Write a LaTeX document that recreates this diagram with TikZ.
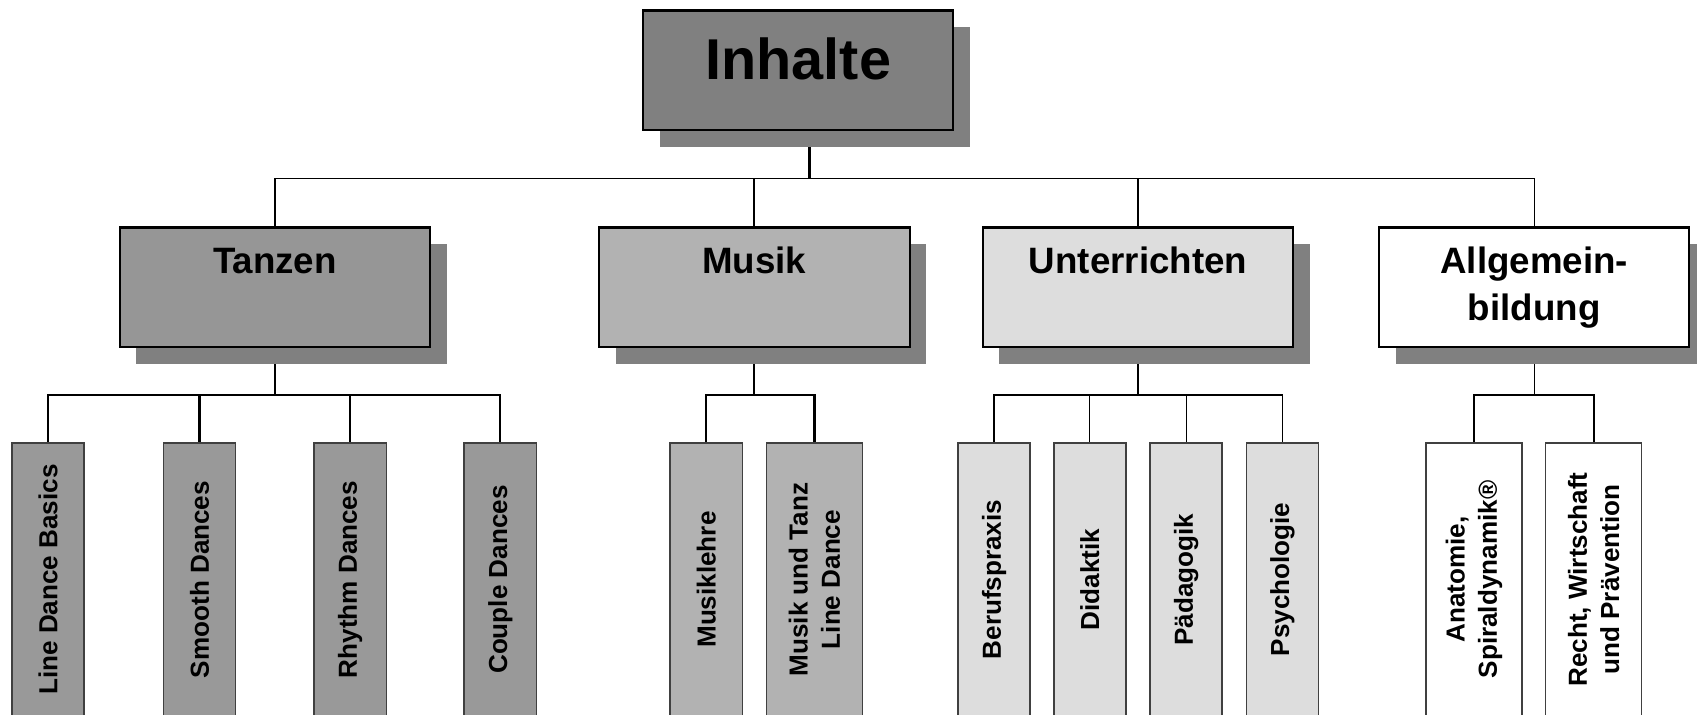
\documentclass[tikz,border=0pt]{standalone}
\usepackage{fontspec}
\setmainfont{Liberation Sans}
\usepackage{tikz}
\usetikzlibrary{shadows, backgrounds}

\definecolor{shadowgray}{gray}{0.5}
\definecolor{inhaltefill}{gray}{0.5}
\definecolor{tanzenfill}{gray}{0.59}
\definecolor{tanzsubfill}{gray}{0.6}
\definecolor{musikfill}{gray}{0.70}
\definecolor{unterrfill}{gray}{0.867}

\tikzset{
  headbox/.style={draw=black, line width=1.2pt, inner sep=0pt,
    minimum width=176.7pt, minimum height=68.1pt,
    drop shadow={shadow xshift=9.5pt, shadow yshift=-9.6pt, fill=shadowgray, opacity=1}},
  topbox/.style={headbox, text height=39.3pt, text depth=28.8pt,
    font=\bfseries\fontsize{32.8}{39}\selectfont},
  mainbox/.style={headbox, text width=176.7pt, align=center,
    text height=26.4pt, text depth=41.7pt,
    font=\bfseries\fontsize{20.9}{26.4}\selectfont},
  subbox/.style={draw=black!75, line width=0.9pt, rotate=90, inner sep=0pt,
    minimum width=155.2pt, minimum height=41.1pt, align=center,
    font=\bfseries\fontsize{14.85}{18.4}\selectfont},
  wide/.style={minimum height=54.6pt},
  thinline/.style={line width=0.7pt},
  thickline/.style={line width=1.3pt}
}

\begin{document}
\begin{tikzpicture}[x=0.021645cm, y=0.021645cm]
\path[use as bounding box, clip] (0,0) rectangle (1568,660);

% Top box
\node[topbox, fill=inhaltefill] (inhalte) at (737.5,595) {Inhalte};

% Second level
\node[mainbox, fill=tanzenfill] (tanzen) at (254,394.5) {Tanzen};
\node[mainbox, fill=musikfill] (musik) at (697,394.5) {Musik};
\node[mainbox, fill=unterrfill] (unterr) at (1051.5,394.5) {Unterrichten};
\node[mainbox, fill=white] (allg) at (1417.5,394.5) {Allgemein-\\bildung};

% Tanzen
\node[subbox, fill=tanzsubfill] (ldb) at (44.5,124.5) {Line Dance Basics};
\node[subbox, fill=tanzsubfill] (smd) at (184.4,124.5) {Smooth Dances};
\node[subbox, fill=tanzsubfill] (rhd) at (323.6,124.5) {Rhythm Dances};
\node[subbox, fill=tanzsubfill] (cpd) at (462.3,124.5) {Couple Dances};

% Musik
\node[subbox, fill=musikfill] (mlehre) at (652.5,124.5) {Musiklehre};
\node[subbox, wide, fill=musikfill] (mtanz) at (752.5,124.5) {Musik und Tanz\\Line Dance};

% Unterrichten
\node[subbox, fill=unterrfill] (beruf) at (918.5,124.5) {Berufspraxis};
\node[subbox, fill=unterrfill] (didak) at (1007,124.5) {Didaktik};
\node[subbox, fill=unterrfill] (paed) at (1096,124.5) {Pädagogik};
\node[subbox, fill=unterrfill] (psych) at (1185,124.5) {Psychologie};

% Allgemeinbildung
\node[subbox, wide, fill=white] (anat) at (1362,124.5) {Anatomie,\\Spiraldynamik®};
\node[subbox, wide, fill=white] (recht) at (1472.5,124.5) {Recht, Wirtschaft\\und Prävention};

\coordinate (topbus) at (0,495);
\coordinate (subbus) at (0,295);

% Lines
\begin{scope}[on background layer]
\draw[thickline] ([xshift=6.4pt]inhalte.south) -- ([xshift=6.4pt]inhalte.south |- topbus);
\draw[thinline] (tanzen.north) |- (allg.north |- topbus) -- (allg.north);
\foreach \n in {tanzen,musik,unterr}
  \draw[thickline] (\n.north) -- (\n.north |- topbus);

\draw[thickline] (tanzen.south) -- (tanzen.south |- subbus);
\draw[thickline] (ldb.east) |- (cpd.east |- subbus) -- (cpd.east);
\foreach \n in {smd,rhd}
  \draw[thickline] (\n.east) -- (\n.east |- subbus);

\draw[thickline] (musik.south) -- (musik.south |- subbus);
\draw[thickline] (mlehre.east) |- (mtanz.east |- subbus) -- (mtanz.east);

\draw[thickline] (unterr.south) -- (unterr.south |- subbus);
\draw[thinline] (beruf.east) |- (psych.east |- subbus) -- (psych.east);
\foreach \n in {didak,paed}
  \draw[thinline] (\n.east) -- (\n.east |- subbus);

\draw[thinline] (allg.south) -- (allg.south |- subbus);
\draw[thickline] (anat.east) |- (recht.east |- subbus) -- (recht.east);
\end{scope}
\end{tikzpicture}
\end{document}
